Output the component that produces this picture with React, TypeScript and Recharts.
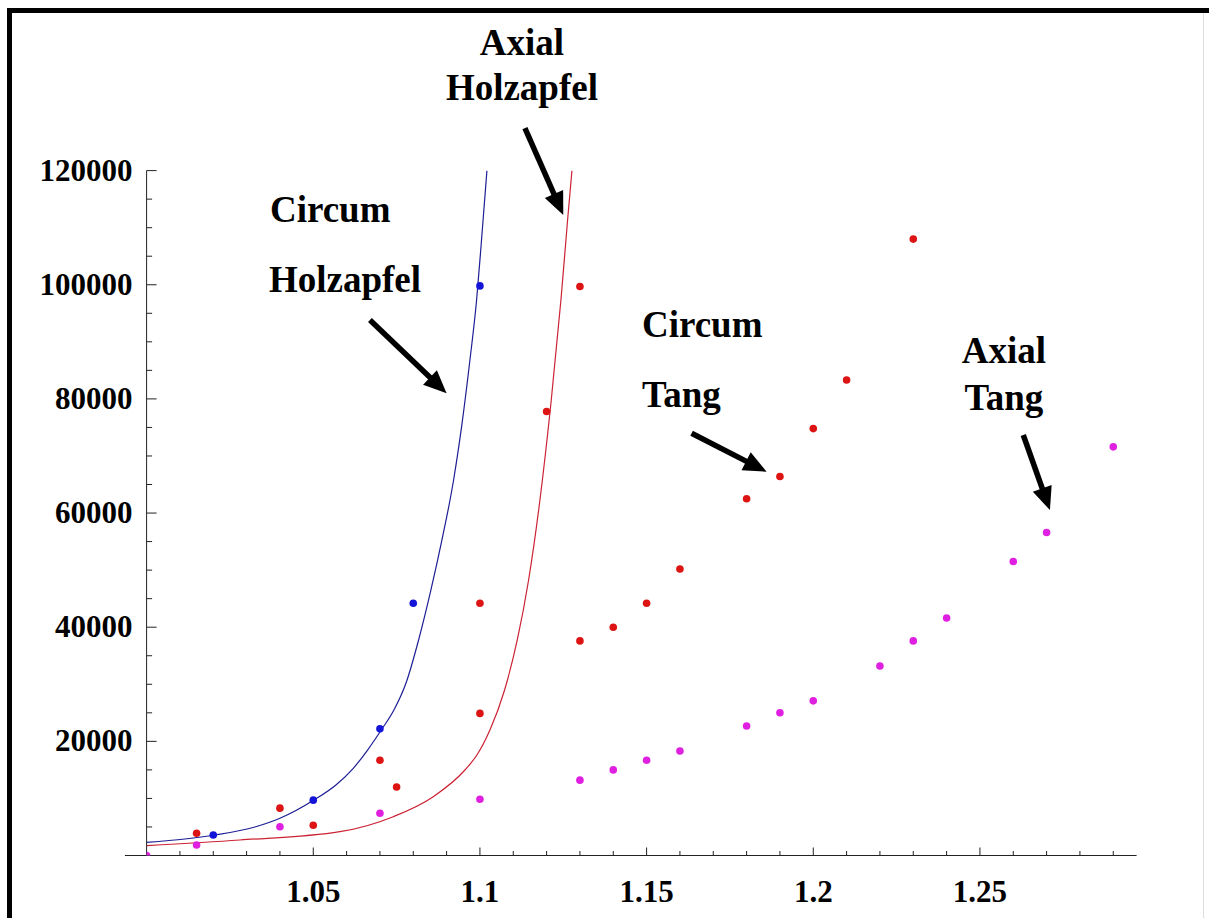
import React from "react"
import { ComposedChart, Line, Scatter, XAxis, YAxis, ReferenceLine, ReferenceDot } from "recharts"

// measured points
const circumHolzapfel = [
  { x: 1.02, y: 3600 },
  { x: 1.05, y: 9700 },
  { x: 1.07, y: 22200 },
  { x: 1.08, y: 44200 },
  { x: 1.1, y: 99800 },
]

const axialHolzapfel = [
  { x: 1.015, y: 3900 },
  { x: 1.04, y: 8300 },
  { x: 1.05, y: 5300 },
  { x: 1.07, y: 16700 },
  { x: 1.075, y: 12000 },
  { x: 1.1, y: 24900 },
  { x: 1.1, y: 44200 },
  { x: 1.12, y: 77800 },
  { x: 1.13, y: 99700 },
]

const circumTang = [
  { x: 1.13, y: 37600 },
  { x: 1.14, y: 40000 },
  { x: 1.15, y: 44200 },
  { x: 1.16, y: 50200 },
  { x: 1.18, y: 62500 },
  { x: 1.19, y: 66400 },
  { x: 1.2, y: 74800 },
  { x: 1.21, y: 83300 },
  { x: 1.23, y: 108000 },
]

const axialTang = [
  { x: 1.0, y: 0 },
  { x: 1.015, y: 1850 },
  { x: 1.04, y: 5050 },
  { x: 1.07, y: 7400 },
  { x: 1.1, y: 9850 },
  { x: 1.13, y: 13200 },
  { x: 1.14, y: 15000 },
  { x: 1.15, y: 16700 },
  { x: 1.16, y: 18300 },
  { x: 1.18, y: 22700 },
  { x: 1.19, y: 25000 },
  { x: 1.2, y: 27100 },
  { x: 1.22, y: 33200 },
  { x: 1.23, y: 37600 },
  { x: 1.24, y: 41600 },
  { x: 1.26, y: 51500 },
  { x: 1.27, y: 56600 },
  { x: 1.29, y: 71600 },
]

// fitted model curves
const circumHolzapfelFit = [
  { x: 1.0, y: 2300 },
  { x: 1.0115, y: 2890 },
  { x: 1.0205, y: 3590 },
  { x: 1.0325, y: 4990 },
  { x: 1.04, y: 6520 },
  { x: 1.0502, y: 9720 },
  { x: 1.0568, y: 12350 },
  { x: 1.062, y: 15280 },
  { x: 1.0663, y: 18480 },
  { x: 1.0706, y: 22160 },
  { x: 1.0742, y: 25490 },
  { x: 1.0778, y: 30170 },
  { x: 1.0816, y: 37760 },
  { x: 1.0853, y: 46520 },
  { x: 1.0886, y: 55280 },
  { x: 1.0921, y: 65790 },
  { x: 1.0945, y: 75130 },
  { x: 1.097, y: 86810 },
  { x: 1.099, y: 97320 },
  { x: 1.1004, y: 107260 },
  { x: 1.1021, y: 120000 },
]

const axialHolzapfelFit = [
  { x: 1.0, y: 1720 },
  { x: 1.028, y: 2720 },
  { x: 1.058, y: 4170 },
  { x: 1.074, y: 6800 },
  { x: 1.086, y: 10300 },
  { x: 1.0955, y: 14980 },
  { x: 1.0991, y: 17610 },
  { x: 1.103, y: 21990 },
  { x: 1.1074, y: 29000 },
  { x: 1.1112, y: 37760 },
  { x: 1.1146, y: 48270 },
  { x: 1.118, y: 62280 },
  { x: 1.1214, y: 79800 },
  { x: 1.1243, y: 97320 },
  { x: 1.1263, y: 111340 },
  { x: 1.1276, y: 120000 },
]

const xTicks = [
  1.01, 1.02, 1.03, 1.04, 1.05, 1.06, 1.07, 1.08, 1.09, 1.1,
  1.11, 1.12, 1.13, 1.14, 1.15, 1.16, 1.17, 1.18, 1.19, 1.2,
  1.21, 1.22, 1.23, 1.24, 1.25, 1.26, 1.27, 1.28, 1.29,
]
const xMajorTicks = [1.05, 1.1, 1.15, 1.2, 1.25]
const xTickLabels = ["1.05", "1.1", "1.15", "1.2", "1.25"]

const yTicks = [
  5000, 10000, 15000, 20000, 25000, 30000, 35000, 40000, 45000, 50000, 55000, 60000,
  65000, 70000, 75000, 80000, 85000, 90000, 95000, 100000, 105000, 110000, 115000, 120000,
]
const yMajorTicks = [20000, 40000, 60000, 80000, 100000, 120000]
const yTickLabels = ["20000", "40000", "60000", "80000", "100000", "120000"]

const annotations = [
  { text: "Axial", x: 1.1126, y: 140250, anchor: "middle" },
  { text: "Holzapfel", x: 1.1126, y: 132360, anchor: "middle" },
  { text: "Circum", x: 1.037, y: 110990, anchor: "start" },
  { text: "Holzapfel", x: 1.0367, y: 98725, anchor: "start" },
  { text: "Circum", x: 1.1486, y: 90840, anchor: "start" },
  { text: "Tang", x: 1.1486, y: 78580, anchor: "start" },
  { text: "Axial", x: 1.2572, y: 86290, anchor: "middle" },
  { text: "Tang", x: 1.2572, y: 78050, anchor: "middle" },
]

const arrows = [
  { from: { x: 1.1135, y: 127460 }, to: { x: 1.125, y: 112220 } },
  { from: { x: 1.067, y: 93820 }, to: { x: 1.09, y: 80980 } },
  { from: { x: 1.1635, y: 73970 }, to: { x: 1.186, y: 67240 } },
  { from: { x: 1.263, y: 73670 }, to: { x: 1.271, y: 60530 } },
]

const FONT = "'Liberation Serif', 'Times New Roman', serif"

const findIndex = (list: number[], v: number) => list.findIndex((t) => Math.abs(t - v) < 1e-6)

const XTick = (props: any) => {
  const { x, y, payload } = props
  const i = findIndex(xMajorTicks, payload.value)
  const major = i >= 0
  return (
    <g>
      <line x1={x} y1={y} x2={x} y2={y - (major ? 8 : 4.5)} stroke="#222" strokeWidth={1} />
      {major && (
        <text x={x} y={y + 46} textAnchor="middle" fontFamily={FONT} fontWeight="bold" fontSize={31} fill="#000">
          {xTickLabels[i]}
        </text>
      )}
    </g>
  )
}

const YTick = (props: any) => {
  const { x, y, payload } = props
  const i = findIndex(yMajorTicks, payload.value)
  const major = i >= 0
  return (
    <g>
      <line x1={x} y1={y} x2={x + (major ? 10 : 5.5)} y2={y} stroke="#222" strokeWidth={1} />
      {major && (
        <text x={x - 14} y={y + 10} textAnchor="end" fontFamily={FONT} fontWeight="bold" fontSize={31} fill="#000">
          {yTickLabels[i]}
        </text>
      )}
    </g>
  )
}

const Arrow = (props: any) => {
  const { x1, y1, x2, y2 } = props
  const dx = x2 - x1
  const dy = y2 - y1
  const len = Math.sqrt(dx * dx + dy * dy)
  const ux = dx / len
  const uy = dy / len
  const headLen = 23
  const headHalf = 10
  const bx = x2 - ux * headLen
  const by = y2 - uy * headLen
  return (
    <g>
      <line x1={x1} y1={y1} x2={bx + ux * 2} y2={by + uy * 2} stroke="#000" strokeWidth={5.5} />
      <polygon
        points={`${x2},${y2} ${bx - uy * headHalf},${by + ux * headHalf} ${bx + uy * headHalf},${by - ux * headHalf}`}
        fill="#000"
      />
    </g>
  )
}

const dot = (color: string) => (props: any) => <circle cx={props.cx} cy={props.cy} r={3.8} fill={color} />

export default function App() {
  return (
    <div style={{ position: "absolute", left: 0, top: 0, width: 1209, height: 918, overflow: "hidden", background: "#fff" }}>
      <div style={{ position: "absolute", left: 7, top: 8, width: 5, height: 910, background: "#000" }} />
      <div style={{ position: "absolute", left: 7, top: 8, width: 1202, height: 5, background: "#000" }} />
      <div style={{ position: "absolute", left: 1203, top: 13, width: 1, height: 905, background: "#ddd" }} />
      <ComposedChart width={1209} height={918} margin={{ top: 170.6, right: 72.4, bottom: 2.5, left: 6.6 }}>
        <XAxis
          type="number"
          dataKey="x"
          domain={[1, 1.297]}
          allowDataOverflow
          ticks={xTicks}
          interval={0}
          tickSize={0}
          tickMargin={0}
          tickLine={false}
          tick={<XTick />}
          height={60}
          axisLine={{ stroke: "#222", strokeWidth: 1 }}
        />
        <YAxis
          type="number"
          dataKey="y"
          domain={[0, 120000]}
          allowDataOverflow
          ticks={yTicks}
          interval={0}
          tickSize={0}
          tickMargin={0}
          tickLine={false}
          tick={<YTick />}
          width={140}
          axisLine={{ stroke: "#222", strokeWidth: 1 }}
        />
        <ReferenceLine
          segment={[{ x: 0.9935, y: 0 }, { x: 1, y: 0 }]}
          ifOverflow="visible"
          stroke="#222"
          strokeWidth={1}
        />
        <Line
          data={circumHolzapfelFit}
          dataKey="y"
          type="monotone"
          stroke="#1e1e96"
          strokeWidth={1.2}
          dot={false}
          isAnimationActive={false}
        />
        <Line
          data={axialHolzapfelFit}
          dataKey="y"
          type="monotone"
          stroke="#cc2233"
          strokeWidth={1.2}
          dot={false}
          isAnimationActive={false}
        />
        <Scatter data={circumHolzapfel} shape={dot("#1414d8")} isAnimationActive={false} />
        <Scatter data={axialHolzapfel} shape={dot("#dd1414")} isAnimationActive={false} />
        <Scatter data={circumTang} shape={dot("#dd1414")} isAnimationActive={false} />
        <Scatter data={axialTang} shape={dot("#e020e0")} isAnimationActive={false} />
        {arrows.map((a, i) => (
          <ReferenceLine key={"a" + i} segment={[a.from, a.to]} ifOverflow="visible" shape={<Arrow />} />
        ))}
        {annotations.map((a, i) => (
          <ReferenceDot
            key={"t" + i}
            x={a.x}
            y={a.y}
            ifOverflow="visible"
            shape={(p: any) => (
              <text x={p.cx} y={p.cy} textAnchor={a.anchor} fontFamily={FONT} fontWeight="bold" fontSize={37} fill="#000">
                {a.text}
              </text>
            )}
          />
        ))}
      </ComposedChart>
    </div>
  )
}
